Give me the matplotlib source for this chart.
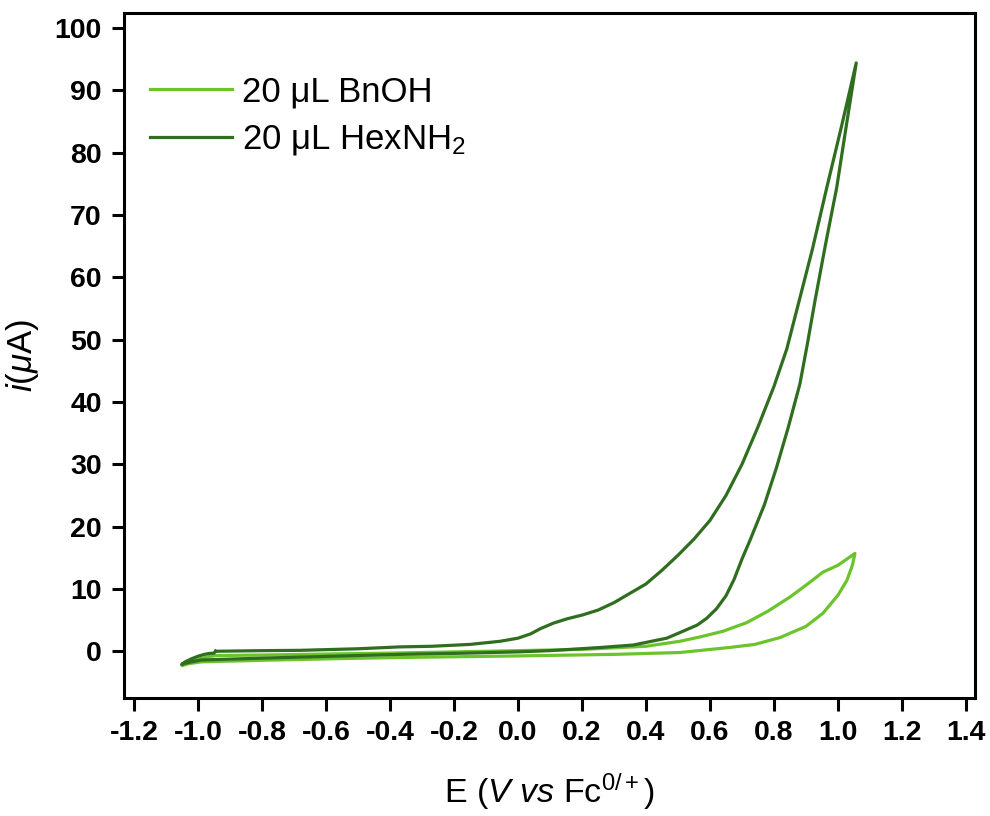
import matplotlib
matplotlib.use("Agg")
import matplotlib.pyplot as plt
from matplotlib.ticker import FormatStrFormatter

# CV loop, 20 uL BnOH (light green): forward scan then reverse scan
e_bnoh = [-0.95, -0.80, -0.60, -0.40, -0.20, 0.00, 0.20, 0.40, 0.506, 0.569, 0.64, 0.715,
          0.78, 0.85, 0.90, 0.953, 1.00, 1.053,
          1.045, 1.028, 1.00, 0.953, 0.90, 0.819, 0.74, 0.66, 0.506, 0.30, 0.00, -0.37,
          -0.58, -0.80, -0.99, -1.03, -1.05, -1.04, -1.00, -0.97, -0.95]
i_bnoh = [-0.7, -0.6, -0.45, -0.3, -0.1, 0.1, 0.3, 0.8, 1.6, 2.3, 3.2, 4.6,
          6.4, 8.7, 10.6, 12.7, 13.8, 15.7,
          13.8, 11.4, 9.0, 6.1, 4.0, 2.2, 1.1, 0.6, -0.2, -0.5, -0.75, -1.0,
          -1.2, -1.45, -1.7, -2.0, -2.3, -1.9, -1.3, -0.9, -0.7]

# CV loop, 20 uL HexNH2 (dark green)
e_hex = [-0.945, -0.80, -0.68, -0.50, -0.37, -0.27, -0.15, -0.056, 0.00, 0.04, 0.069,
         0.11, 0.153, 0.20, 0.25, 0.30, 0.36, 0.40, 0.45, 0.50, 0.55, 0.60, 0.65, 0.70,
         0.75, 0.80, 0.84, 0.875, 0.92, 0.965, 1.01, 1.057,
         1.025, 0.996, 0.96, 0.928, 0.905, 0.881, 0.845, 0.808, 0.77, 0.725, 0.70, 0.675,
         0.65, 0.62, 0.59, 0.56, 0.506, 0.465, 0.36, 0.256, 0.10, 0.00,
         -0.16, -0.37, -0.58, -0.80, -0.99, -1.03, -1.051, -1.04, -1.02, -1.00, -0.98,
         -0.965, -0.95, -0.945]
i_hex = [0.0, 0.1, 0.15, 0.4, 0.7, 0.8, 1.1, 1.6, 2.1, 2.8, 3.6,
         4.5, 5.2, 5.8, 6.6, 7.8, 9.6, 10.8, 13.0, 15.4, 18.0, 21.0, 25.0, 30.0,
         36.0, 42.5, 48.5, 55.5, 64.5, 74.4, 84.0, 94.4,
         84.0, 74.4, 65.0, 56.2, 49.5, 42.9, 36.0, 29.5, 23.5, 17.8, 14.8, 11.5,
         8.9, 6.8, 5.3, 4.2, 3.0, 2.1, 1.0, 0.6, 0.1, -0.1,
         -0.3, -0.5, -0.8, -1.1, -1.4, -1.8, -2.1, -1.7, -1.2, -0.8, -0.5,
         -0.35, -0.3, 0.0]

labels = ["20 \u03bcL BnOH", "20 \u03bcL HexNH$_2$"]
colors = ["#6cc42c", "#2f6e1f"]

x_ticks = [-1.2, -1.0, -0.8, -0.6, -0.4, -0.2, 0.0, 0.2, 0.4, 0.6, 0.8, 1.0, 1.2, 1.4]
y_ticks = [0, 10, 20, 30, 40, 50, 60, 70, 80, 90, 100]

plt.rcParams['font.family'] = ['Liberation Sans', 'DejaVu Sans']
plt.rcParams['mathtext.fontset'] = 'custom'
plt.rcParams['mathtext.rm'] = 'Liberation Sans'
plt.rcParams['mathtext.it'] = 'Liberation Sans:italic'
plt.rcParams['axes.unicode_minus'] = False

fig = plt.figure(figsize=(9.9, 8.16), dpi=100)
ax = fig.add_axes([0.1253, 0.1446, 0.8595, 0.8394])

ax.plot(e_bnoh, i_bnoh, color=colors[0], lw=2.3, label=labels[0])
ax.plot(e_hex, i_hex, color=colors[1], lw=2.3, label=labels[1])

ax.set_xlim(-1.231, 1.428)
ax.set_ylim(-7.5, 102.4)
ax.set_xticks(x_ticks)
ax.set_yticks(y_ticks)
ax.xaxis.set_major_formatter(FormatStrFormatter('%.1f'))

for s in ax.spines.values():
    s.set_linewidth(2.2)
ax.tick_params(direction='out', length=9, width=2.2, pad=7, labelsize=20.5)
for t in ax.get_xticklabels() + ax.get_yticklabels():
    t.set_fontweight('bold')

ax.set_xlabel(r"E $\mathit{(V\ vs}$ Fc$^{0/+}\mathit{)}$", fontsize=24.5, labelpad=18)
ax.set_ylabel(r"$\mathit{i(\mu}$A$\mathit{)}$", fontsize=25, labelpad=10)

leg = ax.legend(loc='upper left', bbox_to_anchor=(-0.006, 0.955), frameon=False, fontsize=25,
                handlelength=2.36, handletextpad=0.29, labelspacing=0.42)

fig.savefig("out.png", dpi=100)
